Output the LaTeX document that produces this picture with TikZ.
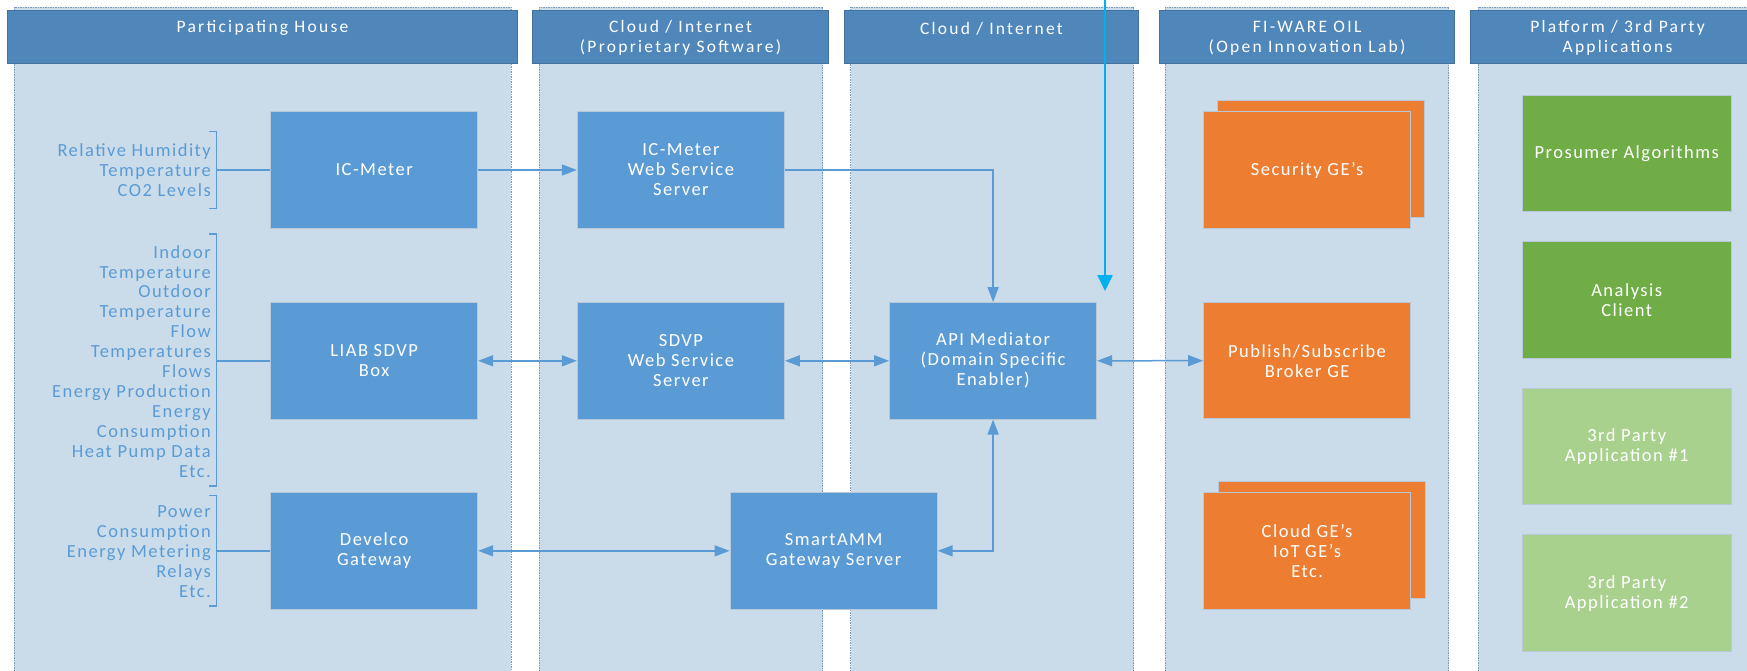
\documentclass[tikz,border=0pt]{standalone}
\usepackage{fontspec}
\setmainfont{Carlito}
\newfontfamily\spaced[LetterSpace=8]{Carlito}
\newfontfamily\hdrspaced[LetterSpace=13]{Carlito}
\usetikzlibrary{arrows.meta}
\definecolor{lanebg}{HTML}{CADCEA}
\definecolor{laneline}{HTML}{7A9CC0}
\definecolor{hdrfill}{HTML}{4F87BB}
\definecolor{hdrline}{HTML}{41719C}
\definecolor{boxblue}{HTML}{5B9BD5}
\definecolor{boxorange}{HTML}{ED7D31}
\definecolor{boxgreen}{HTML}{70AD47}
\definecolor{boxlgreen}{HTML}{A9D18E}
\definecolor{boxedge}{HTML}{B8C8D8}
\definecolor{cyanarrow}{HTML}{00B0F0}
\tikzset{
  lane/.style={fill=lanebg, draw=laneline, line width=0.7pt, dash pattern=on 1.5pt off 1pt},
  hdr/.style={fill=hdrfill, draw=hdrline, line width=1pt},
  hdrtext/.style={text=white, font=\hdrspaced\fontsize{17.5}{20}\selectfont, align=center, inner sep=0pt},
  box/.style={draw=boxedge, line width=1pt, text=white, font=\spaced\fontsize{18.5}{20}\selectfont, align=center, minimum width=207pt, minimum height=116.5pt, inner sep=0pt},
  bluebox/.style={box, fill=boxblue},
  orangebox/.style={box, fill=boxorange},
  greenbox/.style={box, fill=boxgreen, minimum width=208.6pt},
  lgreenbox/.style={box, fill=boxlgreen, minimum width=208.6pt},
  labeltext/.style={text=boxblue, font=\spaced\fontsize{18.5}{19.9}\selectfont, align=right, inner sep=0pt, anchor=east},
  conn/.style={draw=boxblue, line width=1.5pt},
  bracket/.style={draw=boxblue, line width=1.3pt},
  >={Triangle[length=15pt,width=11pt]}
}
\begin{document}
\begin{tikzpicture}[x=1pt,y=-1pt]
\useasboundingbox (0,0) rectangle (1747,671);
\clip (0,0) rectangle (1747,671);
% lanes
\path[lane] (14.3,7) rectangle (511.4,690);
\path[lane] (539,7) rectangle (822.5,690);
\path[lane] (850.6,7) rectangle (1133.7,690);
\path[lane] (1165.4,7) rectangle (1448.8,690);
\path[lane] (1477.9,7) rectangle (1760,690);
% headers
\draw[hdr] (7.9,10.7) rectangle (517.1,64);
\draw[hdr] (532.7,10.7) rectangle (828.4,64);
\draw[hdr] (844,10.7) rectangle (1138.7,64);
\draw[hdr] (1159.5,10.7) rectangle (1454.7,64);
\draw[hdr] (1470,10.7) rectangle (1765,64);
\node[hdrtext] (h1) at (262.5,28.3) {Participating House};
\node[hdrtext] (h2) at (680.5,38.3) {Cloud / Internet\\(Proprietary Software)};
\node[hdrtext] (h3) at (991.4,28.3) {Cloud / Internet};
\node[hdrtext] (h4) at (1307.1,38.3) {FI-WARE OIL\\(Open Innovation Lab)};
\node[hdrtext] (h5) at (1617.5,38.3) {Platform / 3rd Party\\Applications};
% boxes
\node[bluebox] (icm) at (374.15,170) {IC-Meter};
\node[bluebox] (liab) at (374.15,360.8) {LIAB SDVP\\Box};
\node[bluebox] (dev) at (374.15,550.85) {Develco\\Gateway};
\node[bluebox] (icws) at (680.9,170) {IC-Meter\\Web Service\\Server};
\node[bluebox] (sdws) at (680.9,360.8) {SDVP\\Web Service\\Server};
\node[bluebox] (api) at (993.1,360.8) {API Mediator\\(Domain Specific\\Enabler)};
\node[bluebox] (smart) at (833.6,550.85) {SmartAMM\\Gateway Server};
\node[orangebox] (secb) at (1320.5,159) {};
\node[orangebox] (sec) at (1307.1,170.2) {Security GE’s};
\node[orangebox] (pub) at (1307.1,360.7) {Publish/Subscribe\\Broker GE};
\node[orangebox] (cloudb) at (1321.5,540) {};
\node[orangebox] (cloud) at (1307.1,550.85) {Cloud GE’s\\IoT GE’s\\Etc.};
\node[greenbox] (pros) at (1626.7,153.5) {Prosumer Algorithms};
\node[greenbox] (anal) at (1626.7,300.2) {Analysis\\Client};
\node[lgreenbox] (app1) at (1626.7,446.7) {3rd Party\\Application \#1};
\node[lgreenbox] (app2) at (1626.7,593.2) {3rd Party\\Application \#2};
% left labels
\node[labeltext] (lab1) at (211,170) {Relative Humidity\\Temperature\\CO2 Levels};
\node[labeltext] (lab2) at (211,361.2) {Indoor\\Temperature\\Outdoor\\Temperature\\Flow\\Temperatures\\Flows\\Energy Production\\Energy\\Consumption\\Heat Pump Data\\Etc.};
\node[labeltext] (lab3) at (211,551.4) {Power\\Consumption\\Energy Metering\\Relays\\Etc.};
% brackets
\draw[bracket] (209,131.7) -- (216.8,131.7) -- (216.8,208.3) -- (209,208.3);
\draw[bracket] (209,234) -- (216.8,234) -- (216.8,486) -- (209,486);
\draw[bracket] (209,495.7) -- (216.8,495.7) -- (216.8,606) -- (209,606);
\coordinate (b1) at (216.8,170);
\coordinate (b2) at (216.8,360.8);
\coordinate (b3) at (216.8,550.85);
\draw[conn] (b1) -- (icm.west);
\draw[conn] (b2) -- (liab.west);
\draw[conn] (b3) -- (dev.west);
% connectors
\draw[conn,->] (icm.east) -- (icws.west);
\draw[conn,<->] (liab.east) -- (sdws.west);
\draw[conn,<->] (dev.east) -- (smart.west);
\draw[conn,<->] (sdws.east) -- (api.west);
\draw[conn,<->] (api.east) -- (pub.west);
\draw[conn,->] (icws.east) -| (api.north);
\draw[conn,<->] (smart.east) -| (api.south);
% cyan arrow
\coordinate (cytop) at (1105,-2);
\coordinate (cyend) at (1105,291);
\draw[draw=cyanarrow, line width=2.5pt, -{Triangle[length=16pt,width=15pt]}, cyanarrow] (cytop) -- (cyend);
\end{tikzpicture}
\end{document}
